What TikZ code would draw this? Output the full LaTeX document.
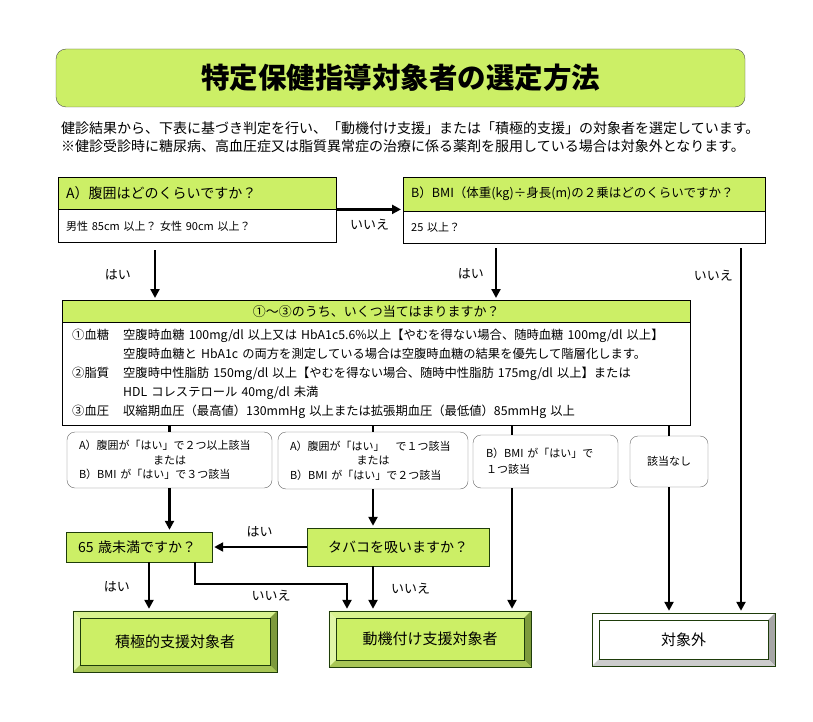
\documentclass[tikz,border=0pt]{standalone}
\usepackage{fontspec}
\setmainfont{Noto Sans CJK JP}
\usetikzlibrary{arrows.meta}

\definecolor{sgreen}{HTML}{CCEF66}
\definecolor{dgreen}{HTML}{1E3C0A}
\definecolor{gtop}{HTML}{D8F28E}
\definecolor{gleft}{HTML}{E0F6A6}
\definecolor{gright}{HTML}{7D9A3C}
\definecolor{gbottom}{HTML}{A8C656}

% bevel frame round a node: node, top, left, right, bottom, border
\newcommand\bevelbox[6]{%
  \fill[#2] (#1.north west) -- (#1.north east) -- ([shift={(-7pt,-7pt)}]#1.north east) -- ([shift={(7pt,-7pt)}]#1.north west) -- cycle;
  \fill[#3] (#1.north west) -- ([shift={(7pt,-7pt)}]#1.north west) -- ([shift={(7pt,7pt)}]#1.south west) -- (#1.south west) -- cycle;
  \fill[#4] (#1.north east) -- (#1.south east) -- ([shift={(-7pt,7pt)}]#1.south east) -- ([shift={(-7pt,-7pt)}]#1.north east) -- cycle;
  \fill[#5] (#1.south west) -- ([shift={(7pt,7pt)}]#1.south west) -- ([shift={(-7pt,7pt)}]#1.south east) -- (#1.south east) -- cycle;
  \draw[#6] (#1.north west) rectangle (#1.south east);
  \draw[#6] ([shift={(7pt,-7pt)}]#1.north west) rectangle ([shift={(-7pt,7pt)}]#1.south east);
}

\begin{document}
\begin{tikzpicture}[x=1pt, y=-1pt,
    titlebox/.style={draw=black!70, fill=sgreen, rounded corners=10pt, minimum width=689pt, minimum height=58pt, font=\fontsize{28.5}{30}\selectfont\bfseries},
    hdr/.style={draw=black, fill=sgreen, anchor=north west, inner xsep=8pt, inner ysep=0pt, align=left},
    body/.style={draw=black, fill=white, anchor=north west, inner xsep=8pt, inner ysep=0pt, align=left},
    casebox/.style={draw=black!60, fill=white, rounded corners=8pt, inner xsep=12pt, inner ysep=0pt, font=\fontsize{11}{14.5}\selectfont},
    askbox/.style={draw=dgreen, fill=sgreen, inner ysep=0pt, font=\fontsize{14}{14}\selectfont},
    endbox/.style={draw=none, inner sep=0pt, font=\fontsize{15}{15}\selectfont},
    arrow/.style={-{Triangle[length=9pt,width=9pt]}, line width=2.4pt, shorten >=2pt},
    link/.style={line width=2.4pt},
    lbl/.style={inner sep=1pt, font=\fontsize{13}{13}\selectfont}
]
\useasboundingbox (0,0) rectangle (813,722);

% Title
\node[titlebox] (title) at (400.5,78) {特定保健指導対象者の選定方法};
\node[anchor=west, align=left, inner sep=0pt, font=\fontsize{14}{18}\selectfont] (intro) at (61,137)
  {健診結果から、下表に基づき判定を行い、「動機付け支援」または「積極的支援」の対象者を選定しています。\\
   ※健診受診時に糖尿病、高血圧症又は脂質異常症の治療に係る薬剤を服用している場合は対象外となります。};

% A) waist
\node[hdr, text width=262pt, minimum height=32pt, font=\fontsize{14}{14}\selectfont] (hdrA) at (58,177) {A）腹囲はどのくらいですか？};
\node[body, text width=262pt, minimum height=33pt, font=\fontsize{11}{11}\selectfont] (bodyA) at (hdrA.south west) {男性 85cm 以上？ 女性 90cm 以上？};

% B) BMI
\node[hdr, text width=346pt, minimum height=34pt, inner xsep=8pt, font=\fontsize{12.5}{12.5}\selectfont] (hdrB) at (403,177) {B）BMI（体重(kg)÷身長(m)の２乗はどのくらいですか？};
\node[body, text width=346pt, minimum height=32pt, font=\fontsize{11}{11}\selectfont] (bodyB) at (hdrB.south west) {25 以上？};

% risk factors
\node[hdr, text width=612pt, minimum height=22pt, align=center, font=\fontsize{13}{13}\selectfont] (hdrQ) at (62,300) {①～③のうち、いくつ当てはまりますか？};
\node[body, text width=608pt, inner xsep=10pt, minimum height=103pt, font=\fontsize{12.3}{19}\selectfont] (bodyQ) at (hdrQ.south west)
  {\makebox[51pt][l]{①血糖}空腹時血糖 100mg/dl 以上又は HbA1c5.6\%以上【やむを得ない場合、随時血糖 100mg/dl 以上】\\
   \hspace*{51pt}空腹時血糖と HbA1c の両方を測定している場合は空腹時血糖の結果を優先して階層化します。\\
   \makebox[51pt][l]{②脂質}空腹時中性脂肪 150mg/dl 以上【やむを得ない場合、随時中性脂肪 175mg/dl 以上】または\\
   \hspace*{51pt}HDL コレステロール 40mg/dl 未満\\
   \makebox[51pt][l]{③血圧}収縮期血圧（最高値）130mmHg 以上または拡張期血圧（最低値）85mmHg 以上};

% cases
\node[casebox, text width=181pt, minimum height=56pt, align=left] (caseA) at (169.5,460)
  {A）腹囲が「はい」で２つ以上該当\\ \makebox[\linewidth]{または}\\ B）BMI が「はい」で３つ該当};
\node[casebox, text width=166pt, minimum height=57pt, align=left] (caseB) at (373,460.5)
  {A）腹囲が「はい」　で１つ該当\\ \makebox[\linewidth]{または}\\ B）BMI が「はい」で２つ該当};
\node[casebox, text width=119pt, inner xsep=13pt, minimum height=53pt, align=left, font=\fontsize{11}{16}\selectfont] (caseC) at (545.5,461.5)
  {B）BMI が「はい」で\\ １つ該当};
\node[casebox, minimum width=78pt, minimum height=51pt, align=center] (caseD) at (669,461.5) {該当なし};

% questions
\node[askbox, text width=122pt, inner xsep=12pt, minimum height=30pt, align=left] (age) at (139,547) {65 歳未満ですか？};
\node[askbox, minimum width=182pt, minimum height=38pt] (smoke) at (398,547) {タバコを吸いますか？};

% results
\node[endbox, fill=sgreen, minimum width=204pt, minimum height=61pt] (active) at (175,641.5) {積極的支援対象者};
\bevelbox{active}{gtop}{gleft}{gright}{gbottom}{dgreen}
\node[endbox, fill=sgreen, minimum width=202pt, minimum height=56pt] (motiv) at (430,639) {動機付け支援対象者};
\bevelbox{motiv}{gtop}{gleft}{gright}{gbottom}{dgreen}
\node[endbox, fill=white, minimum width=183pt, minimum height=53pt] (excluded) at (683.5,639.5) {対象外};
\bevelbox{excluded}{white}{white}{black!35}{black!20}{dgreen}

% free ends
\coordinate (aYes) at (155,250);
\coordinate (bYes) at (496,248);
\coordinate (bNo) at (741,248);
\coordinate (cC) at (512,0);
\coordinate (ageYes) at (149,0);
\coordinate (noA) at (195,584);
\coordinate (noB) at (347,584);

% Arrows
\draw[arrow] (hdrA.south east) -- node[lbl, below=8pt] {いいえ} (hdrA.south east -| hdrB.west);
\draw[arrow] (aYes) -- node[lbl, left=22pt] {はい} (aYes |- hdrQ.north);
\draw[arrow] (bYes) -- node[lbl, left=10pt] {はい} (bYes |- hdrQ.north);
\draw[arrow] (bNo) -- node[lbl, pos=0.075, left=6pt] {いいえ} (bNo |- excluded.north);
\draw[link] (caseA.north |- bodyQ.south) -- (caseA.north);
\draw[link] (caseB.north |- bodyQ.south) -- (caseB.north);
\draw[link] (cC |- bodyQ.south) -- (cC |- caseC.north);
\draw[link] (caseD.north |- bodyQ.south) -- (caseD.north);
\draw[arrow] (caseA.south) -- (caseA.south |- age.north);
\draw[arrow] (caseB.south) -- (caseB.south |- smoke.north);
\draw[arrow] (cC |- caseC.south) -- (cC |- motiv.north);
\draw[arrow] (caseD.south) -- (caseD.south |- excluded.north);
\draw[arrow] (smoke.west) -- node[lbl, above=8pt] {はい} (age.east);
\draw[arrow] (ageYes |- age.south) -- node[lbl, left=17pt] {はい} (ageYes |- active.north);
\draw[arrow] (noA |- age.south) -- (noA) -- node[lbl, below=4pt] {いいえ} (noB) -- (noB |- motiv.north);
\draw[arrow] (caseB.south |- smoke.south) -- node[lbl, right=16pt] {いいえ} (caseB.south |- motiv.north);

\end{tikzpicture}
\end{document}
